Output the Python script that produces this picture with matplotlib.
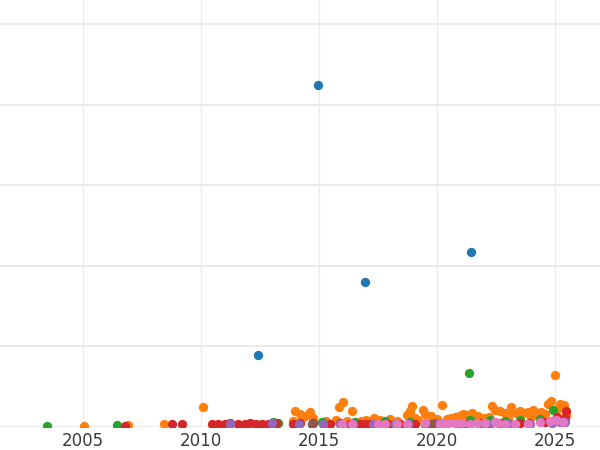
import matplotlib
matplotlib.use("Agg")
import matplotlib.pyplot as plt

# data (year, value)
blue_x = [2012.42, 2014.96, 2016.95, 2021.44]
blue_y = [89, 425, 180, 217]

orange_x = [2005.04, 2006.91, 2008.43, 2010.08,
            2013.98, 2014.19, 2014.41, 2014.62, 2014.75, 2014.28, 2013.9,
            2015.72, 2015.85, 2016.02, 2016.4, 2016.78, 2017.33, 2017.6, 2018.01,
            2018.3, 2018.73, 2018.86, 2018.94, 2019.07, 2019.41, 2019.49, 2019.75,
            2020.21, 2020.42, 2020.6, 2020.76, 2020.93, 2021.1, 2021.27, 2021.48,
            2021.74, 2021.99, 2022.2, 2022.33, 2022.46, 2022.67, 2022.88, 2023.09,
            2023.14, 2023.35, 2023.52, 2023.69, 2023.86, 2024.07, 2024.24, 2024.41,
            2024.58, 2024.7, 2024.83, 2025.0, 2025.21, 2025.38, 2025.47, 2025.1,
            2015.3, 2016.2, 2017.0, 2019.2, 2020.0, 2021.6, 2023.0, 2024.0]
orange_y = [1.2, 2.5, 3.7, 24.8,
            19.9, 16.1, 13.7, 18.6, 11.2, 12, 8,
            8.7, 24.8, 31, 19.9, 7.5, 11.2, 9, 9.9,
            8, 14.9, 19.9, 26.1, 11, 21.1, 16.1, 13.7,
            27.3, 9.9, 11, 12.4, 13.7, 16.1, 14.9, 17.4,
            13.7, 11.2, 12, 26.1, 21.1, 19.9, 17.4, 18.6,
            24.8, 17.4, 19.9, 17.4, 18.6, 21.1, 17.4, 18.6,
            16.1, 28.6, 32.3, 64.6, 28.6, 27.3, 15, 22,
            7, 8, 9, 9, 10, 10, 11, 12]

green_x = [2003.47, 2006.44, 2013.05, 2013.26, 2015.13, 2016.53, 2017.8, 2018.86,
           2021.36, 2021.4, 2022.25, 2023.52, 2024.36, 2024.92, 2019.9, 2022.9]
green_y = [1.2, 2.5, 6.2, 5.0, 6.2, 6.2, 7.5, 6.2,
           67, 8.7, 8.7, 8.7, 9.9, 21.1, 5, 7]

red_x = [2006.78, 2008.77, 2009.19, 2010.47, 2010.72, 2011.02, 2011.23, 2011.57,
         2011.86, 2012.08, 2012.33, 2012.58, 2012.84, 2013.18, 2013.9, 2014.19,
         2014.75, 2015.47, 2015.89, 2016.31, 2016.74, 2017.16, 2017.5, 2017.92,
         2018.43, 2019.07, 2019.49, 2020.13, 2020.76, 2021.82, 2022.67, 2023.52,
         2024.58, 2025.08, 2025.47, 2025.42, 2016.95, 2019.9, 2021.2, 2023.9, 2024.9]
red_y = [1.2, 3.7, 3.7, 3.7, 3.7, 3.7, 5.0, 3.7,
         3.7, 5.0, 3.7, 3.7, 3.7, 5.0, 3.7, 5.0,
         5.0, 3.7, 5.0, 3.7, 3.7, 3.7, 3.7, 3.7,
         3.7, 3.7, 3.7, 3.7, 5.0, 5.0, 5.0, 5.0,
         6.2, 12.4, 19.9, 11.2, 4, 4, 4, 5, 8]

purple_x = [2011.23, 2013.01, 2014.15, 2014.7, 2015.17, 2015.89, 2016.44, 2018.22,
            2018.77, 2019.49, 2020.0, 2020.97, 2022.25, 2023.09, 2023.94, 2024.87,
            2025.21, 2025.42, 2017.3, 2021.9]
purple_y = [3.7, 5.0, 3.7, 3.7, 3.7, 3.7, 3.7, 3.7,
            3.7, 3.7, 3.7, 3.7, 3.7, 3.7, 3.7, 5.0,
            6.2, 6.2, 3.7, 4]

brown_x = [2014.7, 2019.75]
brown_y = [3.7, 3.7]

pink_x = [2015.97, 2016.4, 2017.5, 2017.8, 2018.31, 2018.73, 2019.49, 2020.13,
          2020.47, 2020.76, 2021.06, 2021.4, 2022.03, 2022.46, 2022.88, 2023.31,
          2023.86, 2024.36, 2024.79, 2025.04, 2025.34, 2021.7, 2022.6, 2020.3]
pink_y = [3.7, 3.7, 3.7, 3.7, 3.7, 3.7, 5.0, 3.7,
          5.0, 5.0, 5.0, 3.7, 5.0, 6.2, 3.7, 3.7,
          3.7, 6.2, 7.5, 8.7, 6.2, 5, 5, 5]

series = [
    (blue_x, blue_y, "#1f77b4"),
    (orange_x, orange_y, "#ff7f0e"),
    (green_x, green_y, "#2ca02c"),
    (red_x, red_y, "#d62728"),
    (purple_x, purple_y, "#9467bd"),
    (brown_x, brown_y, "#8c564b"),
    (pink_x, pink_y, "#e377c2"),
]

fig = plt.figure(figsize=(6, 4.5), dpi=100)
ax = fig.add_axes([0, 23 / 450, 1, 427 / 450])

for x, y, c in series:
    ax.scatter(x, y, s=45, color=c, linewidths=0, zorder=3)

ax.set_xlim(2001.48, 2026.91)
ax.set_ylim(0, 530)
ax.set_xticks([2005, 2010, 2015, 2020, 2025])
ax.set_yticks([0, 100, 200, 300, 400, 500])
ax.set_yticklabels([])
ax.tick_params(axis="both", length=0, labelsize=12, labelcolor="#3a3a3a")
ax.grid(axis="y", color="#ebebeb", linewidth=1.5)
ax.grid(axis="x", color="#ebebeb", linewidth=1.0)
ax.set_axisbelow(True)
for s in ax.spines.values():
    s.set_visible(False)

fig.savefig("out.png", dpi=100)
